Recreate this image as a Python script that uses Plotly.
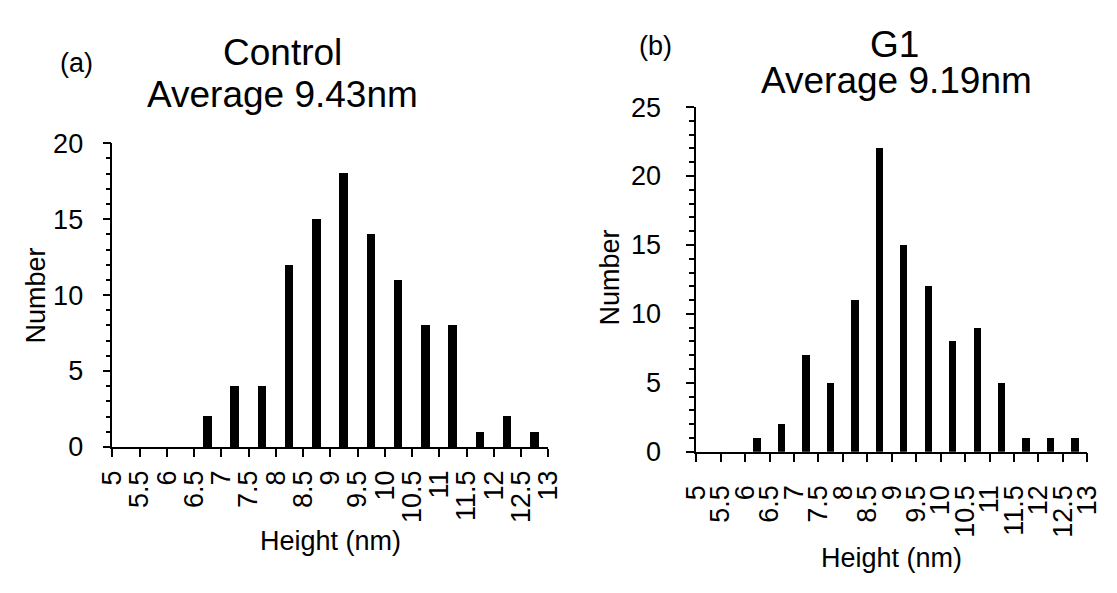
import plotly.graph_objects as go

# Bin edges (tick labels) and bin counts
edges = [5, 5.5, 6, 6.5, 7, 7.5, 8, 8.5, 9, 9.5, 10, 10.5, 11, 11.5, 12, 12.5, 13]
edge_labels = ["5", "5.5", "6", "6.5", "7", "7.5", "8", "8.5", "9", "9.5", "10",
               "10.5", "11", "11.5", "12", "12.5", "13"]
control_counts = [0, 0, 0, 2, 4, 4, 12, 15, 18, 14, 11, 8, 8, 1, 2, 1]
g1_counts = [0, 0, 1, 2, 7, 5, 11, 22, 15, 12, 8, 9, 5, 1, 1, 1]

bin_centers = [(edges[i] + edges[i + 1]) / 2 for i in range(len(edges) - 1)]

W, H = 1117, 593
FONT = "Liberation Sans, Arial, sans-serif"
LW = 1.5

fig = go.Figure()
fig.add_trace(go.Bar(x=bin_centers, y=control_counts, width=0.155,
                     marker=dict(color="black", line=dict(width=0)),
                     xaxis="x", yaxis="y", showlegend=False))
fig.add_trace(go.Bar(x=bin_centers, y=g1_counts, width=0.15,
                     marker=dict(color="black", line=dict(width=0)),
                     xaxis="x2", yaxis="y2", showlegend=False))

def px_x(p):
    return p / W

def px_y(p):
    return 1 - p / H

def xaxis_style(ticklen, standoff):
    return dict(range=[5, 13], tickmode="array", tickvals=edges, ticktext=edge_labels,
                tickangle=-90, ticks="outside", ticklen=ticklen, tickwidth=LW,
                tickcolor="black", showline=True, linecolor="black", linewidth=LW,
                showgrid=False, zeroline=False,
                tickfont=dict(size=27, color="black", family=FONT),
                ticklabelstandoff=standoff)

def yaxis_style(rng, vals, standoff):
    return dict(range=rng, tickmode="array", tickvals=vals, ticks="outside", ticklen=8,
                tickwidth=LW, tickcolor="black", showline=True, linecolor="black",
                linewidth=LW, showgrid=False, zeroline=False,
                tickfont=dict(size=27, color="black", family=FONT),
                ticklabelstandoff=standoff,
                minor=dict(dtick=1, ticks="outside", ticklen=5, tickwidth=LW,
                           tickcolor="black", showgrid=False))

fig.update_layout(
    width=W, height=H,
    margin=dict(l=0, r=0, t=0, b=0),
    paper_bgcolor="white", plot_bgcolor="white",
    bargap=0,
    xaxis=dict(domain=[px_x(100), px_x(548)], anchor="y", **xaxis_style(8, 3)),
    yaxis=dict(domain=[px_y(455), px_y(135)], anchor="x",
               **yaxis_style([0, 20], [0, 5, 10, 15, 20], 14)),
    xaxis2=dict(domain=[px_x(700), px_x(1102)], anchor="y2", **xaxis_style(9, 12)),
    yaxis2=dict(domain=[px_y(460), px_y(97)], anchor="x2",
                **yaxis_style([0, 25], [0, 5, 10, 15, 20, 25], 20)),
    font=dict(family=FONT, color="black"),
)

def ann(text, x, y, size, angle=0):
    fig.add_annotation(text=text, x=px_x(x), y=px_y(y), xref="paper", yref="paper",
                       xanchor="center", yanchor="middle", showarrow=False,
                       textangle=angle, font=dict(size=size, color="black", family=FONT))

ann("Control", 275, 40, 37)
ann("Average 9.43nm", 275, 84, 37)
ann("(a)", 63, 51, 27)
ann("G1", 904, 31, 37)
ann("Average 9.19nm", 906, 69, 37)
ann("(b)", 658, 33, 27)
ann("Number", 22, 295, 27, -90)
ann("Number", 611, 277, 27, -90)
ann("Height (nm)", 324, 554, 27)
ann("Height (nm)", 901, 572, 27)

fig.write_html("out.html")
